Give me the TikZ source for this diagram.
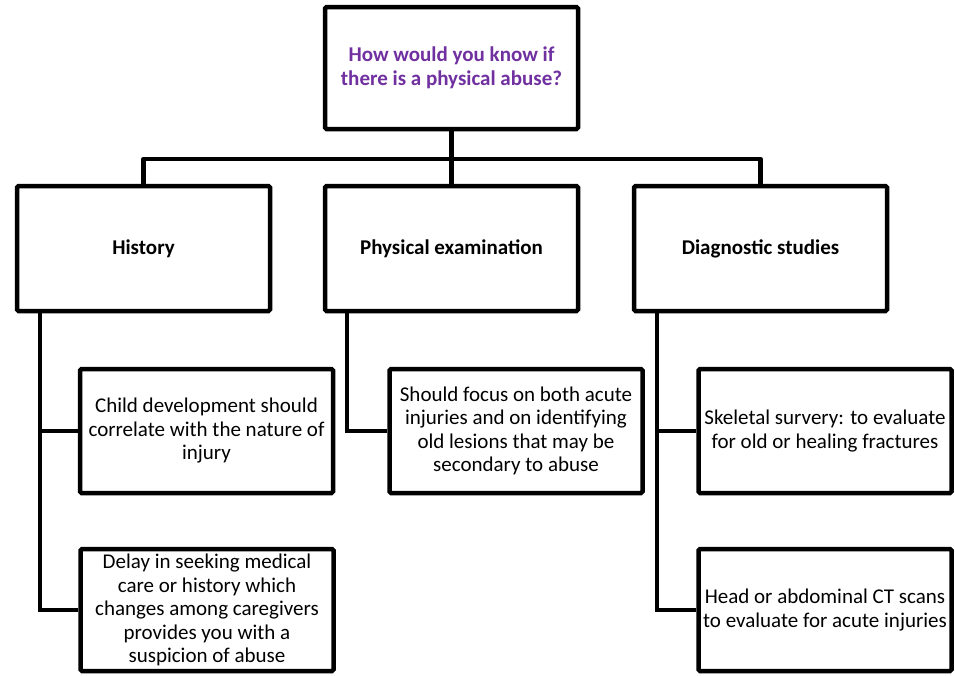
\documentclass[tikz,border=0pt]{standalone}
\usepackage{fontspec}
\setmainfont{Carlito}
\usepackage{xcolor}
\usepackage{tikz}
\usetikzlibrary{calc,positioning}
\definecolor{abpurple}{HTML}{7030A0}

\begin{document}
\begin{tikzpicture}[x=1pt,y=-1pt,
  box/.style={draw=black,line width=4.5pt,rounded corners=1.5pt,fill=white,inner sep=2pt,
  minimum width=253pt,align=center,font=\fontsize{21}{23.5}\selectfont},
  head/.style={box,minimum height=125pt,font=\fontsize{21}{23.5}\selectfont\bfseries},
  leaf/.style={box,minimum height=124pt},
  link/.style={draw=black,line width=4.5pt}]
\useasboundingbox (0,0) rectangle (955,675);
\node[head,minimum height=122pt,text=abpurple] (top) at (451.5,68) {How would you know if\\ there is a physical abuse?};
\node[head] (hist) at (143.5,248.5) {History};\node[head] (phys) at (451.5,248.5) {Physical examination};\node[head] (diag) at (760.5,248.5) {Diagnostic studies};
\node[leaf] (h1) at (206.5,431) {Child development should\\ correlate with the nature of\\ injury};
\node[leaf,minimum height=122pt] (h2) at (207,610) {Delay in seeking medical\\ care or history which\\ changes among caregivers\\ provides you with a\\ suspicion of abuse};
\node[leaf] (p1) at (516,431) {Should focus on both acute\\ injuries and on identifying\\ old lesions that may be\\ secondary to abuse};
\node[leaf] (d1) at (825,431) {Skeletal survery: to evaluate\\ for old or healing fractures};
\node[leaf,minimum height=122pt] (d2) at (825,610) {Head or abdominal CT scans\\ to evaluate for acute injuries};
\coordinate (bus) at (451.5,159);
% tree links
\draw[link] (top.south) -- (phys.north);\draw[link,line join=round] (hist.north) |- (bus) -| (diag.north);
\draw[link] ([xshift=25pt]hist.south west) |- (h1.west);\draw[link] ([xshift=25pt]hist.south west) |- (h2.west);
\draw[link] ([xshift=24pt]phys.south west) |- (p1.west);
\draw[link] ([xshift=25pt]diag.south west) |- (d1.west);\draw[link] ([xshift=25pt]diag.south west) |- (d2.west);
\end{tikzpicture}
\end{document}
